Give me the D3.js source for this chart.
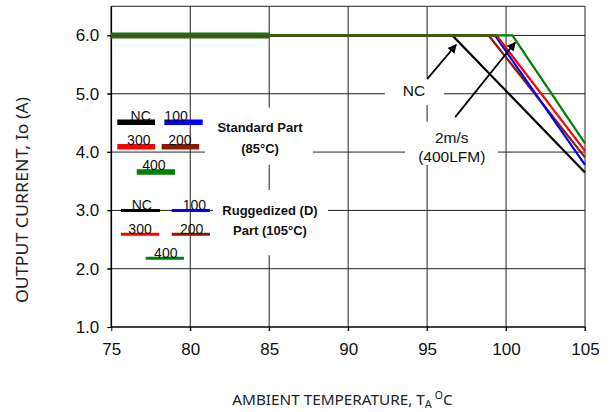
<!DOCTYPE html>
<html><head><meta charset="utf-8">
<script src="https://cdn.jsdelivr.net/npm/d3@7"></script>
<style>
html,body{margin:0;padding:0;background:#fff;}
svg{display:block;}
</style></head>
<body>
<svg id="chart" width="614" height="412"></svg>
<script>
// ---- data ----
const xTicks = [75, 80, 85, 90, 95, 100, 105];
const yTicks = [1.0, 2.0, 3.0, 4.0, 5.0, 6.0];
const seriesNames = ["NC", "200", "100", "300", "400"];
const seriesNC  = [[75, 6.0], [96.6, 6.0], [105, 3.65]];
const series200 = [[75, 6.0], [98.9, 6.0], [105, 3.91]];
const series100 = [[75, 6.0], [99.3, 6.0], [105, 3.78]];
const series300 = [[75, 6.0], [99.4, 6.0], [105, 4.02]];
const series400 = [[75, 6.0], [100.4, 6.0], [105, 4.15]];
const ratedSegment = [[75, 6.0], [85, 6.0]];
const legendNames = ["NC", "100", "300", "200", "400"];

// ---- styles ----
const colors = {"NC": "#000000", "100": "#0000ff", "200": "#8b1a00", "300": "#ff0000", "400": "#008000"};
const allSeries = {"NC": seriesNC, "200": series200, "100": series100, "300": series300, "400": series400};

const svg = d3.select("#chart");
const L = 111.3, R = 585, T = 6.3, B = 327;
const x = d3.scaleLinear().domain([75, 105]).range([L, R]);
const y = d3.scaleLinear().domain([1, 6.5]).range([B, T]);
const font = "'Liberation Sans', Arial, sans-serif";

// grid
const g = svg.append("g");
g.selectAll(".vg").data(xTicks.slice(1)).join("line")
  .attr("x1", d => x(d)).attr("x2", d => x(d)).attr("y1", T).attr("y2", B + 4)
  .attr("stroke", "#222").attr("stroke-width", 1);
g.selectAll(".hg").data(yTicks.slice(1)).join("line")
  .attr("x1", L - 4).attr("x2", R).attr("y1", d => y(d)).attr("y2", d => y(d))
  .attr("stroke", "#222").attr("stroke-width", 1);
g.append("line").attr("x1", L).attr("x2", R).attr("y1", T).attr("y2", T).attr("stroke", "#222").attr("stroke-width", 1);

// axes
const xAxis = d3.axisBottom(x).tickValues(xTicks).tickSize(4).tickPadding(12).tickFormat(d3.format("d"));
const yAxis = d3.axisLeft(y).tickValues(yTicks).tickSize(4).tickPadding(8).tickFormat(d3.format(".1f"));
const xa = svg.append("g").attr("transform", `translate(0,${B})`).call(xAxis);
const ya = svg.append("g").attr("transform", `translate(${L},0)`).call(yAxis);
[xa, ya].forEach(a => {
  a.select(".domain").attr("stroke", "#000").attr("stroke-width", 1.6);
  a.selectAll(".tick line").attr("stroke", "#000");
  a.selectAll("text").attr("font-family", font).attr("font-size", 17).attr("fill", "#111");
});
ya.select(".domain").attr("d", `M0,${T}V${B}`);
xa.select(".domain").attr("d", `M${L},0H${R}`);

// white label boxes (interrupt grid)
function box(x0, x1, y0, y1) {
  svg.append("rect").attr("x", x(x0)).attr("y", y(y1)).attr("width", x(x1) - x(x0)).attr("height", y(y0) - y(y1)).attr("fill", "#fff");
}
box(92.33, 96.07, 4.81, 5.27);  // NC
box(93.6, 99.49, 3.78, 4.52);   // 2m/s
box(80.93, 87.77, 3.78, 4.76);  // Standard Part
box(81.44, 88.72, 2.23, 3.35);  // Ruggedized

// data lines
const line = d3.line().x(d => x(d[0])).y(d => y(d[1]));
svg.append("path").datum(ratedSegment).attr("d", line).attr("fill", "none")
  .attr("stroke", "#008000").attr("stroke-width", 6);
seriesNames.forEach(n => {
  svg.append("path").datum(allSeries[n]).attr("d", line).attr("fill", "none")
    .attr("stroke", colors[n]).attr("stroke-width", 2.2).attr("stroke-linejoin", "miter");
});

// arrows
const defs = svg.append("defs");
defs.append("marker").attr("id", "ah").attr("viewBox", "0 0 10 10").attr("refX", 9).attr("refY", 5)
  .attr("markerWidth", 9).attr("markerHeight", 9).attr("markerUnits", "userSpaceOnUse").attr("orient", "auto")
  .append("path").attr("d", "M0,0L10,5L0,10Z").attr("fill", "#000");
function arrow(p0, p1) {
  svg.append("line").attr("x1", x(p0[0])).attr("y1", y(p0[1])).attr("x2", x(p1[0])).attr("y2", y(p1[1]))
    .attr("stroke", "#000").attr("stroke-width", 1.8).attr("marker-end", "url(#ah)");
}
arrow([95.0, 5.25], [96.84, 5.84]);
arrow([96.78, 4.60], [100.58, 5.88]);

function txt(tx, ty, s, size, weight, anchor) {
  return svg.append("text").attr("x", tx).attr("y", ty).attr("font-family", font).attr("font-size", size)
    .attr("font-weight", weight || "normal").attr("text-anchor", anchor || "middle").attr("fill", "#111").text(s);
}
txt(x(94.17), y(5.05) + 5.5, "NC", 15.5);
txt(x(96.56), y(4.247) + 5.5, "2m/s", 15.5);
txt(x(96.56), y(3.92) + 5.5, "(400LFM)", 15.5);

// Legends: [x start, x end, current level, stroke width, text centre]
const stdLegend = {
  "NC":  [75.38, 77.77, 4.51, 5.5, 76.86],
  "100": [78.36, 80.79, 4.51, 5.5, 79.10],
  "300": [75.38, 77.77, 4.09, 5.5, 76.74],
  "200": [78.19, 80.57, 4.09, 5.5, 79.35],
  "400": [76.61, 79.03, 3.66, 5.5, 77.70]
};
const rugLegend = {
  "NC":  [75.61, 78.08, 3.0, 3, 76.93],
  "100": [78.83, 81.25, 3.0, 3, 80.26],
  "300": [75.61, 78.04, 2.59, 3, 76.82],
  "200": [78.83, 81.25, 2.59, 3, 80.09],
  "400": [77.18, 79.60, 2.18, 3, 78.45]
};
function drawLegend(def) {
  legendNames.forEach(n => {
    const [a, b, v, w, tc] = def[n];
    svg.append("line").attr("x1", x(a)).attr("x2", x(b)).attr("y1", y(v)).attr("y2", y(v))
      .attr("stroke", colors[n]).attr("stroke-width", w);
    txt(x(tc), y(v) - w / 2 + 1, n, 14);
  });
}
drawLegend(stdLegend);
drawLegend(rugLegend);

txt(x(84.42), y(4.43) + 4.7, "Standard Part", 13, "bold");
txt(x(84.42), y(4.07) + 4.7, "(85°C)", 13, "bold");
txt(x(85.05), y(3.0) + 4.7, "Ruggedized (D)", 13, "bold");
txt(x(85.05), y(2.66) + 4.7, "Part (105°C)", 13, "bold");

// axis titles
const tfont = "'Noto Sans', 'Open Sans', sans-serif";
svg.append("text").attr("transform", `translate(28,200) rotate(-90)`)
  .attr("text-anchor", "middle").attr("font-family", tfont).attr("font-size", 17).attr("fill", "#222")
  .attr("textLength", 206).attr("lengthAdjust", "spacingAndGlyphs")
  .text("OUTPUT CURRENT, Io (A)");
const xt = svg.append("text").attr("x", 342.5).attr("y", 405).attr("text-anchor", "middle")
  .attr("font-family", tfont).attr("font-size", 15.3).attr("fill", "#222");
xt.append("tspan").text("AMBIENT TEMPERATURE, T");
xt.append("tspan").attr("font-size", 11).attr("dy", 3).text("A");
xt.append("tspan").attr("font-size", 10.5).attr("dy", -9).attr("dx", 3).text("O");
xt.append("tspan").attr("dy", 6).text("C");
</script>
</body></html>
